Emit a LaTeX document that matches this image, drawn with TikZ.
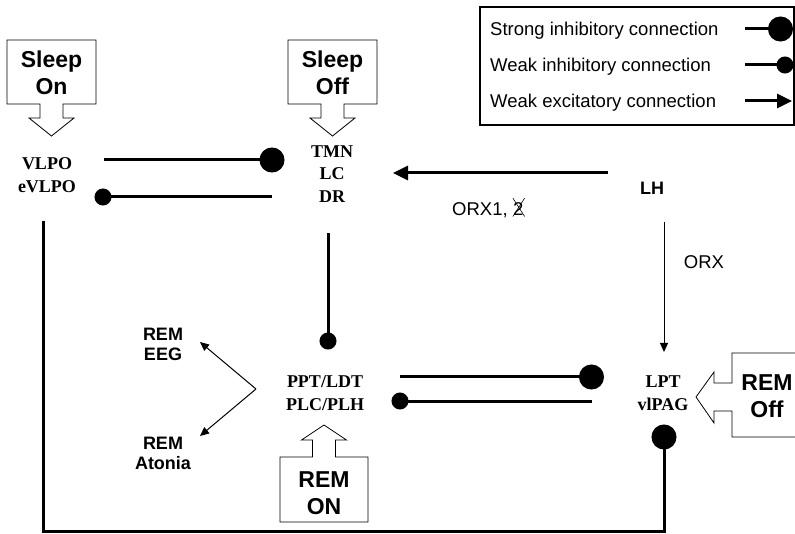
\documentclass[tikz,border=0pt]{standalone}
\usepackage{fontspec}
\setmainfont{Liberation Serif}
\setsansfont{Liberation Sans}
\usetikzlibrary{arrows.meta, positioning}
\tikzstyle{reg}=[font = \fontsize{18}{22.5}\selectfont\bfseries, align = center, inner sep = 0 cm]
\tikzstyle{lab}=[font = \fontsize{18}{20}\selectfont\sffamily\bfseries, align = center, inner sep = 0 cm]
\tikzstyle{txt}=[font = \fontsize{18.5}{20}\selectfont\sffamily, inner sep = 0 cm]
\tikzstyle{big}=[font = \fontsize{23}{27}\selectfont\sffamily\bfseries, align = center, inner sep = 0 cm]
\tikzstyle{cbox}=[draw, line width = .8pt]
\tikzstyle{strong}=[line width = 3pt, -{Circle[length = 25pt]}]
\tikzstyle{weak}=[line width = 3pt, -{Circle[length = 17pt]}]
\tikzstyle{exc}=[line width = 3pt, -{Triangle[length = 15pt, width = 14pt]}]
\tikzstyle{fine}=[line width = 1pt, -{Triangle[length = 9pt, width = 8pt]}]

\begin{document}
\begin{tikzpicture}[x = 1pt, y = -1pt]
  \useasboundingbox (0,0) rectangle (795,534);
  % regions
  \node[reg] (vlpo) at (47,175) {VLPO\\eVLPO};
  \node[reg] (tmn) at (332,174) {TMN\\LC\\DR};
  \node[reg] (ppt) at (325,393) {PPT/LDT\\PLC/PLH};
  \node[reg] (lpt) at (663,393) {LPT\\vlPAG};
  \node[lab] (lh) at (652,188) {LH};
  \node[lab] (eeg) at (163,344) {REM\\EEG};
  \node[lab] (aton) at (163,453) {REM\\Atonia};
  \node[txt, anchor = west] (orx1) at (452,210) {ORX1,};
  \node[txt, base right = 5pt of orx1] (orx2) {2};
  \draw[line width = .6pt] ([yshift = 4pt]orx2.north west) -- ([xshift = 1pt, yshift = -1pt]orx2.south east)
    ([xshift = 1pt, yshift = 4pt]orx2.north east) -- ([yshift = -1pt]orx2.south west);
  \node[txt] (orx) at (704,262) {ORX};
  % switch boxes
  \draw[cbox] (7,40) -- (96,40) -- (96,104) -- (63,104) -- (63,118) -- (74,118) -- (51.5,136)
    -- (29,118) -- (40,118) -- (40,104) -- (7,104) -- cycle;
  \node[big] (sleepon) at (51.5,73) {Sleep\\On};
  \draw[cbox] (288,40) -- (377,40) -- (377,104) -- (344,104) -- (344,118) -- (355,118) -- (332.5,136)
    -- (310,118) -- (321,118) -- (321,104) -- (288,104) -- cycle;
  \node[big] (sleepoff) at (332.5,73) {Sleep\\Off};
  \draw[cbox] (280,522) -- (368,522) -- (368,457) -- (335.5,457) -- (335.5,440) -- (346.5,440) -- (324,425)
    -- (301.5,440) -- (312.5,440) -- (312.5,457) -- (280,457) -- cycle;
  \node[big] (remon) at (324,493) {REM\\ON};
  \draw[cbox] (795,353) -- (732,353) -- (732,383) -- (714,383) -- (714,372) -- (696,397)
    -- (714,423) -- (714,411) -- (732,411) -- (732,437) -- (795,437);
  \node[big] (remoff) at (767,396) {REM\\Off};
  % connections
  \coordinate (vt1) at (104,160);
  \coordinate (vt2) at (284.5,160);
  \coordinate (tv1) at (272,197);
  \coordinate (tv2) at (94.5,197);
  \coordinate (lt1) at (608,173);
  \coordinate (lt2) at (393,173);
  \coordinate (tp1) at (328,233);
  \coordinate (tp2) at (328,349.5);
  \coordinate (ll1) at (664,222);
  \coordinate (ll2) at (664,352);
  \coordinate (pl1) at (400,377);
  \coordinate (pl2) at (604,377);
  \coordinate (lp1) at (592,401);
  \coordinate (lp2) at (391.5,401);
  \coordinate (c1) at (43,221);
  \coordinate (c2) at (43,531);
  \coordinate (c3) at (664,531);
  \coordinate (c4) at (664,424.5);
  \coordinate (fork) at (256,389);
  \coordinate (e1) at (200,342);
  \coordinate (e2) at (200,436);
  \draw[strong] (vt1) -- (vt2);
  \draw[weak] (tv1) -- (tv2);
  \draw[exc] (lt1) -- (lt2);
  \draw[weak] (tp1) -- (tp2);
  \draw[fine] (ll1) -- (ll2);
  \draw[strong] (pl1) -- (pl2);
  \draw[weak] (lp1) -- (lp2);
  \draw[strong] (c1) -- (c2) -- (c3) -- (c4);
  \draw[fine] (fork) -- (e1);
  \draw[fine] (fork) -- (e2);
  % legend
  \draw[line width = 1.2pt] (480,7) rectangle (794,125);
  \node[txt, anchor = west] (ls) at (490,31) {Strong inhibitory connection};
  \node[txt, anchor = west] (lw) at (490,67) {Weak inhibitory connection};
  \node[txt, anchor = west] (le) at (490,103) {Weak excitatory connection};
  \coordinate (s1) at (745,29);
  \coordinate (s2) at (793,29);
  \coordinate (w1) at (745,65);
  \coordinate (w2) at (793.5,65);
  \coordinate (x1) at (745,101);
  \coordinate (x2) at (792,101);
  \draw[strong] (s1) -- (s2);
  \draw[weak] (w1) -- (w2);
  \draw[exc] (x1) -- (x2);
\end{tikzpicture}
\end{document}
